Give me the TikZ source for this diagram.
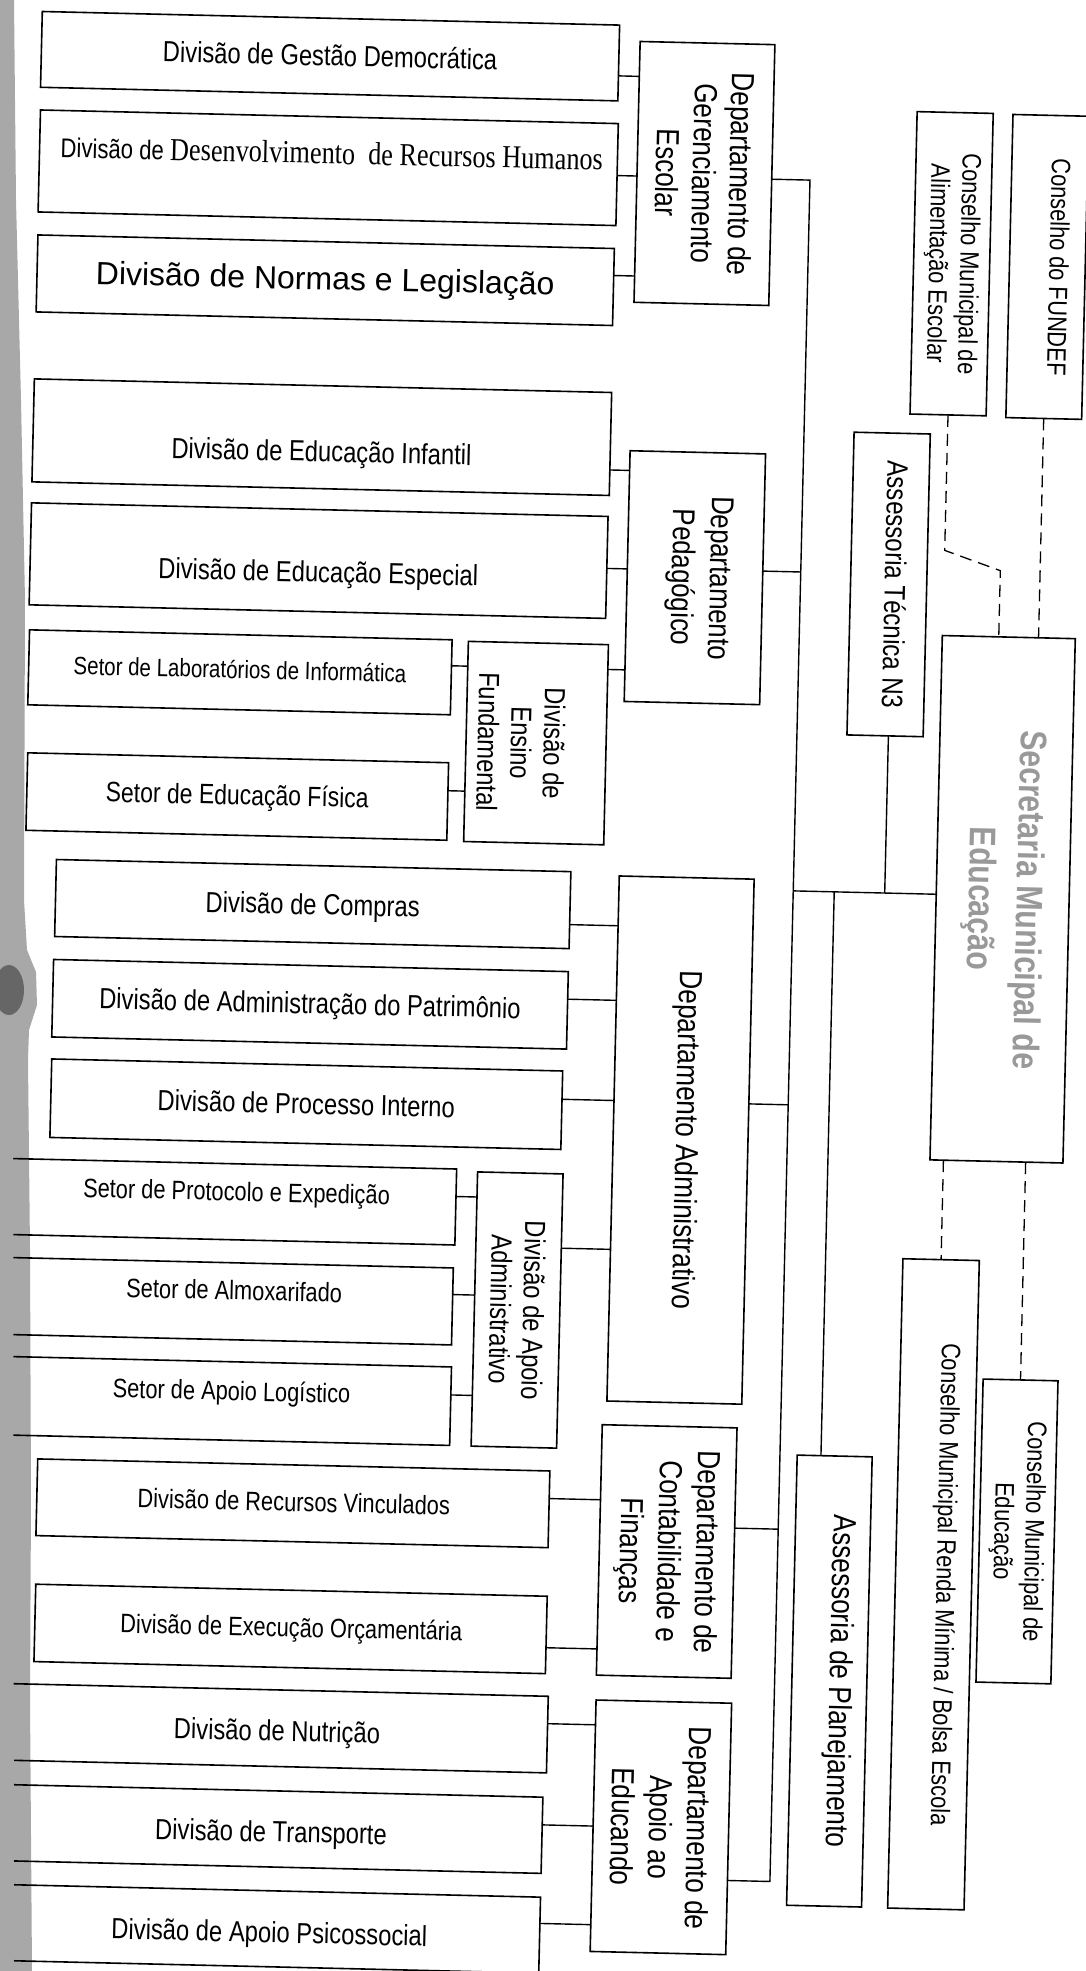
\documentclass[tikz,border=0pt]{standalone}
\usepackage{fontspec}
\setmainfont{Liberation Sans}
\newfontfamily\nar[FakeStretch=0.82]{Liberation Sans}
\newfontfamily\nars[FakeStretch=0.82]{Liberation Serif}
\usetikzlibrary{calc}
\tikzset{
  box/.style={draw, line width=1.6pt, inner sep=0pt, outer sep=0pt},
  link/.style={line width=1.4pt},
  dsh/.style={line width=1.3pt, dash pattern=on 12pt off 7pt},
  ht/.style={anchor=base, inner sep=0pt, font=\nar\fontsize{29}{33}\selectfont},
  hts/.style={ht, font=\nar\fontsize{26.6}{31}\selectfont},
  vt/.style={rotate=-90, align=center, inner sep=0pt, font=\nar\fontsize{32}{38}\selectfont},
  cns/.style={vt, font=\nar\fontsize{26.6}{31}\selectfont},
  scan/.style={fill=black!34},
}
\newcommand\bx[5]{\node[box, minimum width={(#4-#2)*1pt}, minimum height={(#5-#3)*1pt}] (#1) at ({(#2+#4)/2},{(#3+#5)/2}) {};}
\newcommand\stub[3]{\draw[link] (#1.east |- 0,#3) -- (#2.west |- 0,#3);}
\begin{document}
\begin{tikzpicture}[x=1pt,y=-1pt]
\useasboundingbox (0,0) rectangle (1086,1971);
\fill[white] (0,0) rectangle (1086,1971);
\clip (0,0) rectangle (1086,1971);
% scanned page edge
\path[scan] (0,0) -- (14,0) -- (16,200) -- (21,400) -- (25,600) -- (24,900) -- (27,950) -- (36,972) -- (37,1005) -- (29,1030) -- (28,1060) -- (30,1250) -- (31,1500) -- (30,1700) -- (32,1971) -- (0,1971) -- cycle;
\begin{scope}[rotate around={-1.35:(543,985)}, transform shape]
% left column
\bx{a1}{19.5}{23.5}{597}{99.3}
\bx{a2}{20}{122}{598}{224}
\bx{a3}{20.4}{247}{597}{324}
\bx{a4}{20.2}{391}{597.7}{494}
\bx{a5}{20.3}{515}{597}{617}
\bx{a6}{21.3}{642}{444}{717}
\bx{a7}{22.4}{765}{443.4}{842.5}
\bx{a8}{53.6}{871}{568.2}{948}
\bx{a9}{53.1}{971}{568}{1048.5}
\bx{a10}{53.6}{1070.5}{564.7}{1149}
\bx{a11}{3}{1171}{461}{1247}
\bx{a12}{3}{1270}{460}{1347}
\bx{a13}{3}{1369}{460.5}{1447.5}
\bx{a14}{49}{1470.7}{561.3}{1547.4}
\bx{a15}{50}{1596}{561.6}{1673.4}
\bx{a16}{14}{1696}{565}{1772.6}
\bx{a17}{14}{1797}{562}{1873.2}
\bx{a18}{14}{1897}{562}{1973}
% departments
\bx{b1}{617.9}{39.4}{752.7}{300.3}
\bx{b2}{617.5}{448.8}{753}{699.6}
\bx{b3}{460.3}{643.2}{600.4}{843.4}
\bx{b4}{616.7}{874.2}{751.6}{1399.4}
\bx{b5}{482}{1173.4}{567.5}{1447.7}
\bx{b6}{612.6}{1423.2}{747.4}{1673.7}
\bx{b7}{612.9}{1698.6}{748.5}{1950.1}
% right column
\bx{c1}{841}{425}{917.2}{727.8}
\bx{c2}{808.2}{1449}{883.2}{1899.3}
\bx{c3}{934}{626.2}{1067}{1150.7}
\bx{c4}{896.5}{103}{972.6}{405.5}
\bx{c5}{992.4}{103.6}{1068.2}{406.8}
\bx{c6}{909.3}{1250.2}{985.7}{1899.7}
\bx{c7}{992.3}{1368.6}{1067.2}{1671.7}
% stubs
\stub{a1}{b1}{74.3}
\stub{a2}{b1}{174}
\stub{a3}{b1}{274}
\stub{a4}{b2}{468.5}
\stub{a5}{b2}{567}
\stub{b3}{b2}{668}
\stub{a6}{b3}{668}
\stub{a7}{b3}{793}
\stub{a8}{b4}{924}
\stub{a9}{b4}{998.6}
\stub{a10}{b4}{1098.8}
\stub{b5}{b4}{1247.7}
\stub{a11}{b5}{1198.5}
\stub{a12}{b5}{1296.6}
\stub{a13}{b5}{1397}
\stub{a14}{b6}{1498.3}
\stub{a15}{b6}{1647.5}
\stub{a16}{b7}{1723.4}
\stub{a17}{b7}{1824.7}
\stub{a18}{b7}{1923.3}
% trunk
\coordinate (tt) at (791,174);
\coordinate (tb) at (791,1876);
\draw[link] (b1.east |- tt) -- (tt) -- (tb) -- (b7.east |- tb);
\draw[link] (b2.east |- 0,566) -- (tt |- 0,566);
\draw[link] (b4.east |- 0,1099) -- (tt |- 0,1099);
\draw[link] (b6.east |- 0,1523.5) -- (tt |- 0,1523.5);
\draw[link] (tt |- 0,885) -- (c3.west |- 0,885);
\coordinate (j1) at (882.5,885);
\coordinate (j2) at (832,885);
\draw[link] (c1.south -| j1) -- (j1);
\draw[link] (j2) -- (c2.north -| j2);
% dashed links
\draw[dsh] (c5.south) -- (c3.north -| c5.south);
\coordinate (d1) at (934.4,541);
\coordinate (d2) at (990.5,560);
\draw[dsh] (c4.south) -- (d1) -- (d2) -- (c3.north -| d2);
\draw[dsh] (c3.south -| c6.north) -- (c6.north);
\draw[dsh] (c3.south -| c7.north) -- (c7.north);
% texts, left column
\node[ht] (ta1) at (308.25,71) {Divisão de Gestão Democrática};
\node[anchor=base, inner sep=0pt] (ta2) at (312.3,169) {{\nar\fontsize{27}{31}\selectfont Divisão de }{\nars\fontsize{32}{36}\selectfont Desenvolvimento\ \ de Recursos Humanos}};
\node[anchor=base, inner sep=0pt, font=\fontsize{32}{36}\selectfont] (ta3) at (308.7,295) {Divisão de Normas e Legislação};
\node[ht] (ta4) at (309,467) {Divisão de Educação Infantil};
\node[ht] (ta5) at (308.6,587.5) {Divisão de Educação Especial};
\node[ht, font=\nar\fontsize{25}{29}\selectfont] (ta6) at (232.6,685.6) {Setor de Laboratórios de Informática};
\node[ht, font=\nar\fontsize{28}{32}\selectfont] (ta7) at (232.9,812) {Setor de Educação Física};
\node[ht] (ta8) at (310.9,920) {Divisão de Compras};
\node[ht] (ta9) at (310.5,1019) {Divisão de Administração do Patrimônio};
\node[ht] (ta10) at (309.1,1119.5) {Divisão de Processo Interno};
\node[hts] (ta11) at (241.5,1208) {Setor de Protocolo e Expedição};
\node[hts] (ta12) at (241.5,1307) {Setor de Almoxarifado};
\node[hts] (ta13) at (241.2,1407.6) {Setor de Apoio Logístico};
\node[hts] (ta14) at (306,1517) {Divisão de Recursos Vinculados};
\node[hts] (ta15) at (306.5,1642.6) {Divisão de Execução Orçamentária};
\node[ht] (ta16) at (294.6,1747) {Divisão de Nutrição};
\node[ht] (ta17) at (291,1848) {Divisão de Transporte};
\node[ht] (ta18) at (291.7,1948.7) {Divisão de Apoio Psicossocial};
% texts, vertical
\node[vt, font=\nar\fontsize{32}{37}\selectfont] (tb1) at (685.3,169.85) {Departamento de\\Gerenciamento\\Escolar};
\node[vt, font=\nar\fontsize{31.5}{38}\selectfont] (tb2) at (689.3,574.2) {Departamento\\Pedagógico};
\node[vt, font=\nar\fontsize{29}{33}\selectfont] (tb3) at (515.5,743.3) {Divisão de\\Ensino\\Fundamental};
\node[vt] (tb4) at (688,1136.8) {Departamento Administrativo};
\node[vt, font=\nar\fontsize{29}{33}\selectfont] (tb5) at (524.75,1310.55) {Divisão de Apoio\\Administrativo};
\node[vt] (tb6) at (680,1548.45) {Departamento de\\Contabilidade e\\Finanças};
\node[vt] (tb7) at (680.7,1824.35) {Departamento de\\Apoio ao\\Educando};
\node[vt, font=\nar\fontsize{29.5}{34}\selectfont] (tc1) at (886,576.4) {Assessoria Técnica N3};
\node[vt] (tc2) at (854.7,1674.15) {Assessoria de Planejamento};
\node[vt, font=\nar\bfseries\fontsize{37}{48}\selectfont, text=black!40] (tc3) at (1000.5,888.45) {Secretaria Municipal de\\Educação};
\node[cns] (tc4) at (934.55,254.25) {Conselho Municipal de\\Alimentação Escolar};
\node[cns] (tc5) at (1042,255.2) {Conselho do FUNDEF};
\node[cns] (tc6) at (957.5,1574.95) {Conselho Municipal Renda Mínima / Bolsa Escola};
\node[cns] (tc7) at (1029.75,1520.15) {Conselho Municipal de\\Educação};
\end{scope}
% page edge over the cut-off box sides, and the punch mark
\path[scan] (0,0) -- (12,0) -- (14,1971) -- (0,1971) -- cycle;
\fill[black!60] (9,990) ellipse (15 and 25);
\end{tikzpicture}
\end{document}
